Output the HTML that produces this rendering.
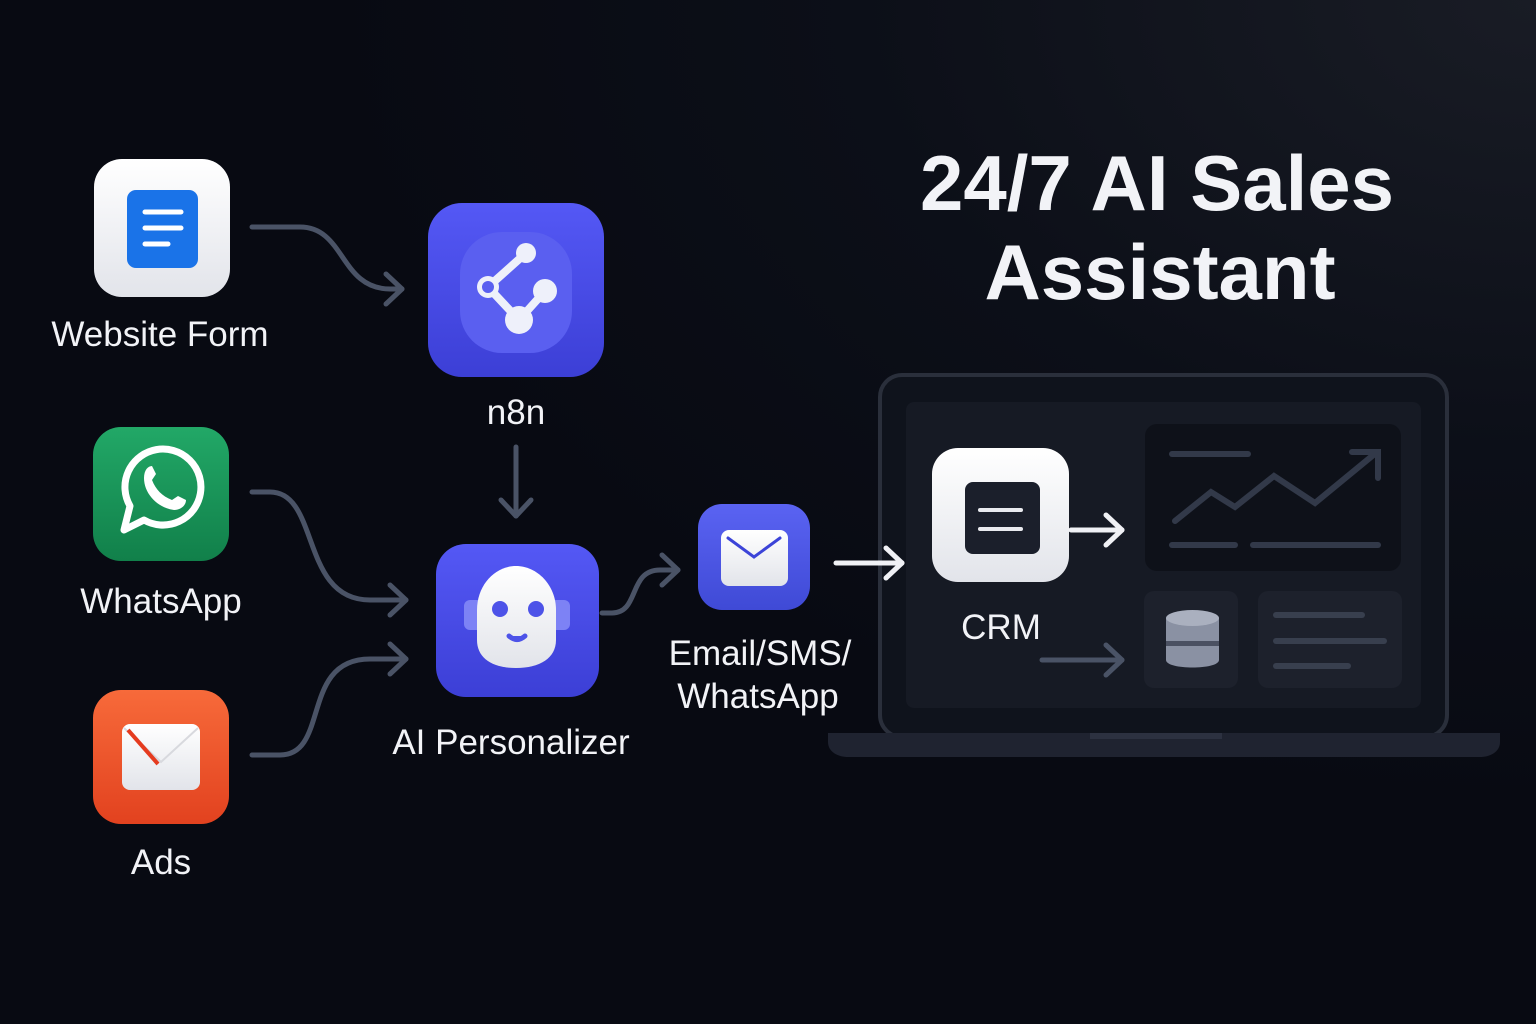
<!DOCTYPE html>
<html><head><meta charset="utf-8"><style>
html,body{margin:0;padding:0;background:#0a0d16;}
svg{display:block}
text{font-family:"Liberation Sans",sans-serif;fill:#f2f3f7}
</style></head><body>
<svg width="1536" height="1024" viewBox="0 0 1536 1024" xmlns="http://www.w3.org/2000/svg">
<defs>
<radialGradient id="bg" cx="1" cy="0" r="0.8">
<stop offset="0" stop-color="#191c25"/><stop offset="0.55" stop-color="#0c0f18"/><stop offset="1" stop-color="#080a12"/>
</radialGradient>
<linearGradient id="wh" x1="0" y1="0" x2="0" y2="1"><stop offset="0" stop-color="#ffffff"/><stop offset="1" stop-color="#e2e4ea"/></linearGradient>
<linearGradient id="gr" x1="0" y1="0" x2="0" y2="1"><stop offset="0" stop-color="#22a867"/><stop offset="1" stop-color="#11804a"/></linearGradient>
<linearGradient id="or" x1="0" y1="0" x2="0" y2="1"><stop offset="0" stop-color="#f76a3a"/><stop offset="1" stop-color="#e2421f"/></linearGradient>
<linearGradient id="bl" x1="0" y1="0" x2="0" y2="1"><stop offset="0" stop-color="#5458f5"/><stop offset="1" stop-color="#3c3fd6"/></linearGradient>
<linearGradient id="bl2" x1="0" y1="0" x2="0" y2="1"><stop offset="0" stop-color="#5a63f2"/><stop offset="1" stop-color="#3f4ad6"/></linearGradient>
<marker id="ah" viewBox="0 0 22 36" refX="19" refY="18" markerWidth="22" markerHeight="36" markerUnits="userSpaceOnUse" orient="auto"><path d="M3 3 L19 18 L3 33" fill="none" stroke="#4a5366" stroke-width="5" stroke-linecap="round" stroke-linejoin="round"/></marker>
<marker id="ahw" viewBox="0 0 22 36" refX="19" refY="18" markerWidth="22" markerHeight="36" markerUnits="userSpaceOnUse" orient="auto"><path d="M3 3 L19 18 L3 33" fill="none" stroke="#f0f1f5" stroke-width="5" stroke-linecap="round" stroke-linejoin="round"/></marker>
</defs>
<rect width="1536" height="1024" fill="url(#bg)"/>

<!-- title -->
<text x="1157" y="210" font-size="78" font-weight="bold" text-anchor="middle">24/7 AI Sales</text>
<text x="1160" y="299" font-size="78" font-weight="bold" text-anchor="middle">Assistant</text>

<!-- connectors -->
<g fill="none" stroke="#4a5366" stroke-width="5" stroke-linecap="round">
<path d="M252 227 H300 C345 227 340 289 390 289 H402" marker-end="url(#ah)"/>
<path d="M252 492 H270 C320 492 300 600 370 600 H406" marker-end="url(#ah)"/>
<path d="M252 755 H280 C330 755 300 659 370 659 H406" marker-end="url(#ah)"/>
<path d="M516 447 V516" marker-end="url(#ah)"/>
<path d="M602 613 H612 C640 613 628 570 660 570 H678" marker-end="url(#ah)"/>
</g>

<!-- Website Form -->
<rect x="94" y="159" width="136" height="138" rx="28" fill="url(#wh)"/>
<rect x="127" y="190" width="71" height="78" rx="9" fill="#1a73e8"/>
<g stroke="#fff" stroke-width="5" stroke-linecap="round"><line x1="145" y1="212" x2="181" y2="212"/><line x1="145" y1="228" x2="181" y2="228"/><line x1="145" y1="244" x2="168" y2="244"/></g>
<text x="160" y="346" font-size="35" text-anchor="middle">Website Form</text>

<!-- WhatsApp -->
<rect x="93" y="427" width="136" height="134" rx="28" fill="url(#gr)"/>
<path d="M124 530 L130 506 A38 38 0 1 1 144 520 Z" fill="none" stroke="#fff" stroke-width="7" stroke-linejoin="round"/>
<path d="M144 478 C144 470 148 466 152 466 L156 474 L152 480 C156 490 162 496 172 500 L178 496 L186 500 C186 506 180 510 174 510 C158 508 144 494 144 478 Z" fill="#fff"/>
<text x="161" y="613" font-size="35" text-anchor="middle">WhatsApp</text>

<!-- Ads -->
<rect x="93" y="690" width="136" height="134" rx="28" fill="url(#or)"/>
<rect x="122" y="724" width="78" height="66" rx="8" fill="url(#wh)"/>
<path d="M124 728 L161 762 L198 728" fill="none" stroke="#d8d9de" stroke-width="2"/>
<line x1="128" y1="730" x2="158" y2="764" stroke="#e53b1f" stroke-width="4"/>
<text x="161" y="874" font-size="35" text-anchor="middle">Ads</text>

<!-- n8n -->
<rect x="428" y="203" width="176" height="174" rx="34" fill="url(#bl)"/>
<rect x="460" y="232" width="112" height="121" rx="42" fill="#5a5ff0"/>
<g stroke="#eef0fa" stroke-width="8" stroke-linecap="round"><line x1="488" y1="287" x2="526" y2="253"/><line x1="488" y1="287" x2="519" y2="320"/><line x1="519" y1="320" x2="545" y2="291"/></g>
<circle cx="526" cy="253" r="10" fill="#eef0fa"/><circle cx="545" cy="291" r="12" fill="#eef0fa"/><circle cx="519" cy="320" r="14" fill="#eef0fa"/>
<circle cx="488" cy="287" r="11" fill="#eef0fa"/><circle cx="488" cy="287" r="6" fill="#5a5ff0"/>
<text x="516" y="424" font-size="35" text-anchor="middle">n8n</text>

<!-- AI Personalizer -->
<rect x="436" y="544" width="163" height="153" rx="30" fill="url(#bl)"/>
<rect x="464" y="600" width="106" height="30" rx="6" fill="#7d82f5"/>
<path d="M477 610 C477 585 495 566 516 566 C537 566 556 585 556 610 V640 C556 658 540 668 516 668 C492 668 477 658 477 640 Z" fill="url(#wh)"/>
<circle cx="500" cy="609" r="8" fill="#4d53e8"/><circle cx="536" cy="609" r="8" fill="#4d53e8"/>
<path d="M509 636 Q517 643 525 636" stroke="#4d53e8" stroke-width="5" fill="#4d53e8" stroke-linecap="round"/>
<text x="511" y="754" font-size="35" text-anchor="middle">AI Personalizer</text>

<!-- Email -->
<rect x="698" y="504" width="112" height="106" rx="24" fill="url(#bl2)"/>
<rect x="721" y="530" width="67" height="56" rx="8" fill="url(#wh)"/>
<path d="M728 538 L754 557 L780 538" fill="none" stroke="#3c44d8" stroke-width="3" stroke-linecap="round"/>
<text x="760" y="665" font-size="35" text-anchor="middle">Email/SMS/</text>
<text x="758" y="708" font-size="35" text-anchor="middle">WhatsApp</text>

<!-- laptop -->
<rect x="880" y="375" width="567" height="362" rx="22" fill="#0f131c" stroke="#2a2f3b" stroke-width="4"/>
<rect x="906" y="402" width="515" height="306" rx="8" fill="#161a24"/>
<path d="M828 733 H1500 V742 C1500 752 1490 757 1480 757 H848 C838 757 828 752 828 742 Z" fill="#1f2330"/>
<rect x="1090" y="733" width="132" height="6" fill="#2c3140"/>
<rect x="1145" y="424" width="256" height="147" rx="12" fill="#0e1119"/>
<g stroke="#323949" stroke-width="6" stroke-linecap="round" fill="none">
<line x1="1172" y1="454" x2="1248" y2="454"/>
<line x1="1172" y1="545" x2="1235" y2="545"/><line x1="1253" y1="545" x2="1378" y2="545"/>
<path d="M1175 521 L1211 492 L1235 507 L1274 476 L1315 503 L1377 452"/>
<path d="M1352 452 H1378 V478"/>
</g>
<rect x="1144" y="591" width="94" height="97" rx="10" fill="#1d212c"/>
<rect x="1258" y="591" width="144" height="97" rx="10" fill="#1d212c"/>
<g stroke="#383f4e" stroke-width="6" stroke-linecap="round"><line x1="1276" y1="615" x2="1362" y2="615"/><line x1="1276" y1="641" x2="1384" y2="641"/><line x1="1276" y1="666" x2="1348" y2="666"/></g>
<path d="M1166 618 V660 C1166 670 1219 670 1219 660 V618 Z" fill="#8a91a3"/>
<ellipse cx="1192.5" cy="618" rx="26.5" ry="8" fill="#aab0bf"/>
<rect x="1166" y="641" width="53" height="5" fill="#4b5162"/>
<rect x="932" y="448" width="137" height="134" rx="26" fill="url(#wh)"/>
<rect x="965" y="482" width="75" height="72" rx="8" fill="#1b1f2b"/>
<g stroke="#e9eaef" stroke-width="4" stroke-linecap="round"><line x1="980" y1="510" x2="1021" y2="510"/><line x1="980" y1="529" x2="1021" y2="529"/></g>
<path d="M1071 530 H1122" fill="none" stroke="#f0f1f5" stroke-width="5" stroke-linecap="round" marker-end="url(#ahw)"/>
<path d="M1042 660 H1122" fill="none" stroke="#4a5366" stroke-width="5" stroke-linecap="round" marker-end="url(#ah)"/>
<path d="M836 563 H902" fill="none" stroke="#f0f1f5" stroke-width="5" stroke-linecap="round" marker-end="url(#ahw)"/>
<text x="1001" y="639" font-size="35" text-anchor="middle">CRM</text>
</svg>
</body></html>
